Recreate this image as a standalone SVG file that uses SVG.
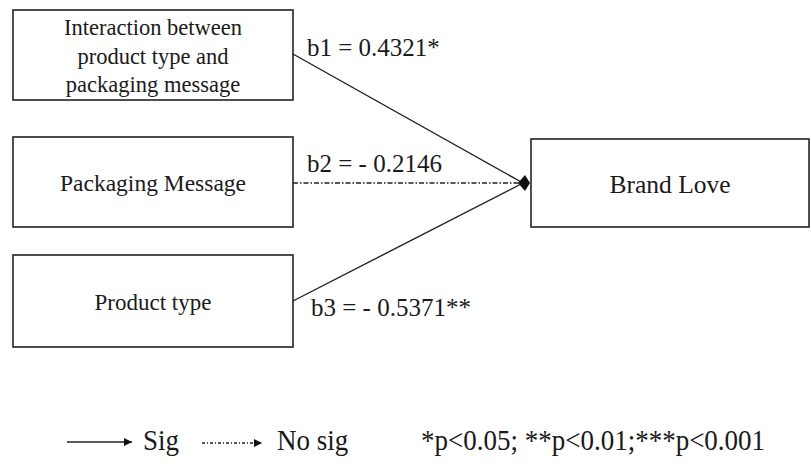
<svg xmlns="http://www.w3.org/2000/svg" width="811" height="465" viewBox="0 0 811 465">
<style>
.box{fill:#fff;stroke:#222;stroke-width:1.6}
.t{font-family:"Liberation Serif","Times New Roman",serif;fill:#1a1a1a}
.c{text-anchor:middle}
.ln{stroke:#222;stroke-width:1.4;fill:none}
.lg{font-size:27px}
</style>
<defs>
<marker id="diamond" viewBox="0 0 12 16" refX="12" refY="8" markerWidth="12" markerHeight="16" markerUnits="userSpaceOnUse" orient="auto">
<path d="M0 8 L7 0 L12 8 L7 16 Z" fill="#111"/>
</marker>
<marker id="tri" viewBox="0 0 10 10" refX="10" refY="5" markerWidth="8" markerHeight="8" markerUnits="userSpaceOnUse" orient="auto">
<path d="M0 0 L10 5 L0 10 Z" fill="#111"/>
</marker>
</defs>
<rect width="811" height="465" fill="#fff"/>
<g id="connectors">
<line class="ln" x1="293" y1="54" x2="523" y2="183"/>
<line class="ln" x1="293" y1="301" x2="523" y2="183"/>
<line class="ln" x1="293" y1="183" x2="530" y2="183" stroke-width="1.2" stroke-dasharray="5 2 1.5 2" marker-end="url(#diamond)"/>
<text class="t" x="307" y="56" font-size="25">b1 = 0.4321*</text>
<text class="t" x="307" y="172" font-size="25">b2 = - 0.2146</text>
<text class="t" x="311" y="316" font-size="25">b3 = - 0.5371**</text>
</g>
<g id="n1">
<rect class="box" x="13" y="10" width="280" height="90"/>
<text class="t c" x="153" y="35" font-size="22.5">Interaction between</text>
<text class="t c" x="153" y="64" font-size="22.5">product type and</text>
<text class="t c" x="153" y="92" font-size="22.5">packaging message</text>
</g>
<g id="n2">
<rect class="box" x="13" y="137" width="280" height="90"/>
<text class="t c" x="153" y="191" font-size="23.5">Packaging Message</text>
</g>
<g id="n3">
<rect class="box" x="13" y="255" width="280" height="92"/>
<text class="t c" x="153" y="310" font-size="23">Product type</text>
</g>
<g id="n4">
<rect class="box" x="531" y="139" width="278" height="88"/>
<text class="t c" x="670" y="193" font-size="25.5">Brand Love</text>
</g>
<g id="legend">
<line class="ln" x1="67" y1="442" x2="132" y2="442" stroke-width="1.6" marker-end="url(#tri)"/>
<text class="t lg" transform="translate(143,450) scale(1,1.07)">Sig</text>
<line class="ln" x1="202" y1="443" x2="262" y2="443" stroke-width="1" stroke-dasharray="3 2 1 2" marker-end="url(#tri)"/>
<text class="t lg" transform="translate(277,450) scale(1,1.07)">No sig</text>
<text class="t lg" transform="translate(421,450) scale(1,1.07)">*p&lt;0.05; **p&lt;0.01;***p&lt;0.001</text>
</g>
</svg>
